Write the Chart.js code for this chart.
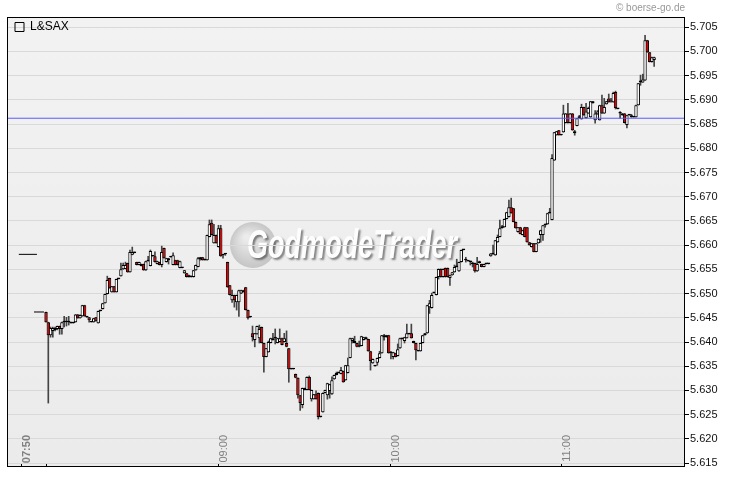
<!DOCTYPE html>
<html><head><meta charset="utf-8">
<script src="https://cdn.jsdelivr.net/npm/chart.js@4.4.1/dist/chart.umd.min.js"></script>
<style>html,body{margin:0;padding:0;background:#fff;}#wrap{width:730px;height:481px;position:relative;}</style>
</head><body><div id="wrap"><canvas id="c"></canvas></div>
<script>
// candles: [open, high, low, close], one per bar, in order
const candles = [
[5.6462,5.6462,5.6441,5.6441],[5.6441,5.6441,5.6274,5.6414],[5.6414,5.6431,5.6410,5.6429],[5.6423,5.6431,5.6410,5.6429],
[5.6425,5.6431,5.6423,5.6429],[5.6427,5.6433,5.6425,5.6433],[5.6433,5.6433,5.6416,5.6427],[5.6427,5.6441,5.6416,5.6441],
[5.6441,5.6453,5.6431,5.6441],[5.6441,5.6451,5.6433,5.6441],[5.6441,5.6453,5.6435,5.6441],[5.6441,5.6441,5.6439,5.6439],
[5.6439,5.6441,5.6439,5.6441],[5.6441,5.6457,5.6441,5.6457],[5.6457,5.6457,5.6449,5.6449],[5.6449,5.6456,5.6449,5.6456],
[5.6453,5.6476,5.6453,5.6476],[5.6476,5.6476,5.6453,5.6453],[5.6453,5.6453,5.6451,5.6451],[5.6451,5.6451,5.6441,5.6445],
[5.6441,5.6441,5.6441,5.6441],[5.6441,5.6449,5.6441,5.6449],[5.6451,5.6451,5.6443,5.6443],[5.6439,5.6464,5.6439,5.6464],
[5.6464,5.6464,5.6464,5.6464],[5.6468,5.6480,5.6468,5.6480],[5.6480,5.6499,5.6480,5.6499],[5.6499,5.6536,5.6499,5.6528],
[5.6532,5.6532,5.6511,5.6511],[5.6503,5.6515,5.6503,5.6515],[5.6515,5.6515,5.6503,5.6503],[5.6503,5.6530,5.6503,5.6530],
[5.6530,5.6530,5.6530,5.6530],[5.6536,5.6563,5.6536,5.6550],[5.6550,5.6563,5.6550,5.6559],[5.6551,5.6565,5.6551,5.6559],
[5.6563,5.6563,5.6544,5.6544],[5.6544,5.6590,5.6544,5.6586],[5.6580,5.6596,5.6580,5.6586],[5.6586,5.6586,5.6584,5.6584],
[5.6565,5.6565,5.6559,5.6559],[5.6559,5.6565,5.6559,5.6565],[5.6557,5.6561,5.6557,5.6561],[5.6561,5.6561,5.6548,5.6548],
[5.6548,5.6567,5.6548,5.6567],[5.6567,5.6577,5.6567,5.6569],[5.6557,5.6590,5.6557,5.6588],[5.6577,5.6577,5.6577,5.6577],
[5.6577,5.6586,5.6565,5.6565],[5.6561,5.6567,5.6561,5.6567],[5.6565,5.6565,5.6559,5.6559],[5.6559,5.6598,5.6555,5.6586],
[5.6594,5.6594,5.6573,5.6573],[5.6565,5.6573,5.6565,5.6573],[5.6569,5.6573,5.6561,5.6573],[5.6575,5.6575,5.6575,5.6575],
[5.6559,5.6584,5.6559,5.6579],[5.6569,5.6569,5.6559,5.6559],[5.6569,5.6569,5.6559,5.6559],[5.6553,5.6567,5.6553,5.6567],
[5.6553,5.6553,5.6553,5.6553],[5.6542,5.6548,5.6542,5.6548],[5.6542,5.6542,5.6534,5.6534],[5.6538,5.6538,5.6534,5.6534],
[5.6534,5.6536,5.6534,5.6536],[5.6534,5.6548,5.6534,5.6548],[5.6548,5.6559,5.6548,5.6559],[5.6555,5.6575,5.6555,5.6573],
[5.6571,5.6575,5.6569,5.6575],[5.6575,5.6575,5.6569,5.6569],[5.6569,5.6571,5.6569,5.6571],[5.6569,5.6621,5.6569,5.6621],
[5.6617,5.6652,5.6617,5.6643],[5.6646,5.6652,5.6621,5.6621],[5.6604,5.6643,5.6604,5.6621],[5.6621,5.6621,5.6604,5.6604],
[5.6596,5.6641,5.6596,5.6635],[5.6635,5.6641,5.6577,5.6577],[5.6579,5.6579,5.6573,5.6579],[5.6581,5.6583,5.6579,5.6581],
[5.6565,5.6565,5.6513,5.6513],[5.6517,5.6517,5.6497,5.6497],[5.6486,5.6507,5.6482,5.6497],[5.6497,5.6497,5.6472,5.6486],
[5.6482,5.6497,5.6466,5.6497],[5.6482,5.6507,5.6453,5.6507],[5.6500,5.6507,5.6500,5.6507],[5.6503,5.6507,5.6503,5.6507],
[5.6513,5.6513,5.6466,5.6466],[5.6466,5.6466,5.6447,5.6449],[5.6451,5.6451,5.6451,5.6451],[5.6418,5.6433,5.6402,5.6410],
[5.6404,5.6418,5.6390,5.6418],[5.6416,5.6433,5.6416,5.6433],[5.6408,5.6435,5.6398,5.6427],[5.6431,5.6431,5.6398,5.6398],
[5.6398,5.6398,5.6338,5.6369],[5.6369,5.6387,5.6369,5.6387],[5.6379,5.6402,5.6379,5.6400],[5.6398,5.6408,5.6398,5.6408],
[5.6404,5.6418,5.6404,5.6408],[5.6408,5.6427,5.6396,5.6408],[5.6398,5.6408,5.6398,5.6408],[5.6400,5.6427,5.6400,5.6408],
[5.6408,5.6408,5.6394,5.6394],[5.6400,5.6418,5.6400,5.6408],[5.6398,5.6423,5.6390,5.6390],[5.6387,5.6387,5.6317,5.6344],
[5.6344,5.6344,5.6344,5.6344],[5.6344,5.6344,5.6344,5.6344],[5.6334,5.6334,5.6326,5.6326],[5.6326,5.6326,5.6284,5.6290],
[5.6290,5.6290,5.6259,5.6274],[5.6270,5.6305,5.6264,5.6305],[5.6301,5.6305,5.6301,5.6305],[5.6301,5.6328,5.6301,5.6328],
[5.6328,5.6330,5.6301,5.6301],[5.6282,5.6301,5.6278,5.6301],[5.6282,5.6292,5.6282,5.6292],[5.6292,5.6299,5.6282,5.6282],
[5.6295,5.6295,5.6241,5.6245],[5.6245,5.6245,5.6245,5.6245],[5.6255,5.6295,5.6255,5.6295],[5.6295,5.6301,5.6295,5.6301],
[5.6290,5.6315,5.6282,5.6315],[5.6299,5.6313,5.6284,5.6313],[5.6292,5.6328,5.6292,5.6321],[5.6323,5.6332,5.6323,5.6332],
[5.6332,5.6338,5.6332,5.6336],[5.6336,5.6336,5.6336,5.6336],[5.6334,5.6348,5.6334,5.6342],[5.6340,5.6340,5.6317,5.6317],
[5.6321,5.6352,5.6321,5.6352],[5.6336,5.6367,5.6336,5.6352],[5.6367,5.6408,5.6367,5.6408],[5.6402,5.6408,5.6398,5.6408],
[5.6398,5.6412,5.6398,5.6402],[5.6398,5.6398,5.6390,5.6390],[5.6390,5.6402,5.6390,5.6392],[5.6392,5.6412,5.6392,5.6412],
[5.6404,5.6410,5.6404,5.6410],[5.6410,5.6410,5.6406,5.6406],[5.6406,5.6406,5.6381,5.6381],[5.6381,5.6381,5.6342,5.6361],
[5.6356,5.6365,5.6356,5.6365],[5.6350,5.6350,5.6350,5.6350],[5.6357,5.6367,5.6352,5.6367],[5.6367,5.6381,5.6367,5.6377],
[5.6377,5.6414,5.6377,5.6414],[5.6410,5.6416,5.6404,5.6414],[5.6414,5.6414,5.6410,5.6410],[5.6414,5.6414,5.6377,5.6377],
[5.6377,5.6381,5.6365,5.6377],[5.6369,5.6379,5.6365,5.6379],[5.6377,5.6377,5.6369,5.6369],[5.6371,5.6396,5.6371,5.6385],
[5.6387,5.6408,5.6387,5.6408],[5.6406,5.6408,5.6406,5.6408],[5.6402,5.6410,5.6398,5.6410],[5.6408,5.6437,5.6408,5.6418],
[5.6418,5.6418,5.6416,5.6416],[5.6418,5.6437,5.6408,5.6408],[5.6402,5.6402,5.6398,5.6398],[5.6398,5.6398,5.6363,5.6383],
[5.6381,5.6381,5.6381,5.6381],[5.6381,5.6398,5.6381,5.6398],[5.6398,5.6414,5.6398,5.6414],[5.6414,5.6418,5.6414,5.6418],
[5.6418,5.6476,5.6418,5.6476],[5.6472,5.6486,5.6459,5.6480],[5.6470,5.6501,5.6470,5.6497],[5.6501,5.6501,5.6501,5.6501],
[5.6497,5.6534,5.6497,5.6534],[5.6534,5.6551,5.6530,5.6551],[5.6551,5.6551,5.6534,5.6534],[5.6534,5.6551,5.6534,5.6551],
[5.6553,5.6553,5.6534,5.6534],[5.6553,5.6553,5.6534,5.6534],[5.6532,5.6538,5.6517,5.6538],[5.6538,5.6544,5.6538,5.6544],
[5.6544,5.6559,5.6544,5.6555],[5.6555,5.6571,5.6555,5.6555],[5.6546,5.6565,5.6546,5.6565],[5.6565,5.6590,5.6565,5.6590],
[5.6590,5.6590,5.6590,5.6590],[5.6569,5.6575,5.6565,5.6569],[5.6567,5.6567,5.6567,5.6567],[5.6565,5.6567,5.6559,5.6565],
[5.6561,5.6565,5.6555,5.6561],[5.6563,5.6563,5.6544,5.6546],[5.6546,5.6575,5.6546,5.6561],[5.6567,5.6567,5.6563,5.6563],
[5.6561,5.6561,5.6555,5.6555],[5.6555,5.6561,5.6555,5.6561],[5.6561,5.6561,5.6561,5.6561],[5.6561,5.6561,5.6561,5.6561],
[5.6577,5.6583,5.6577,5.6583],[5.6581,5.6600,5.6581,5.6583],[5.6579,5.6610,5.6579,5.6610],[5.6606,5.6621,5.6606,5.6617],
[5.6617,5.6652,5.6617,5.6635],[5.6635,5.6641,5.6635,5.6639],[5.6637,5.6654,5.6637,5.6654],[5.6654,5.6668,5.6654,5.6668],
[5.6658,5.6693,5.6658,5.6678],[5.6678,5.6697,5.6666,5.6666],[5.6676,5.6676,5.6648,5.6648],[5.6648,5.6648,5.6635,5.6635],
[5.6627,5.6637,5.6627,5.6637],[5.6637,5.6637,5.6623,5.6623],[5.6621,5.6631,5.6621,5.6631],[5.6637,5.6637,5.6617,5.6617],
[5.6637,5.6637,5.6606,5.6606],[5.6606,5.6606,5.6600,5.6600],[5.6596,5.6604,5.6596,5.6604],[5.6604,5.6604,5.6586,5.6586],
[5.6586,5.6604,5.6586,5.6604],[5.6604,5.6613,5.6604,5.6613],[5.6621,5.6631,5.6606,5.6631],[5.6621,5.6641,5.6610,5.6641],
[5.6641,5.6644,5.6637,5.6644],[5.6643,5.6666,5.6643,5.6666],[5.6666,5.6676,5.6666,5.6668],[5.6652,5.6787,5.6652,5.6780],
[5.6775,5.6833,5.6775,5.6833],[5.6827,5.6835,5.6827,5.6835],[5.6837,5.6837,5.6827,5.6827],[5.6827,5.6827,5.6827,5.6827],
[5.6833,5.6889,5.6833,5.6872],[5.6852,5.6872,5.6852,5.6872],[5.6872,5.6893,5.6852,5.6852],[5.6852,5.6872,5.6852,5.6872],
[5.6872,5.6872,5.6837,5.6837],[5.6831,5.6837,5.6827,5.6835],[5.6846,5.6862,5.6846,5.6862],[5.6862,5.6868,5.6862,5.6866],
[5.6860,5.6891,5.6860,5.6885],[5.6885,5.6885,5.6868,5.6868],[5.6862,5.6893,5.6862,5.6876],[5.6872,5.6885,5.6872,5.6883],
[5.6864,5.6897,5.6864,5.6897],[5.6893,5.6897,5.6893,5.6897],[5.6858,5.6878,5.6852,5.6872],[5.6870,5.6878,5.6870,5.6876],
[5.6858,5.6889,5.6858,5.6889],[5.6889,5.6910,5.6872,5.6872],[5.6872,5.6903,5.6872,5.6885],[5.6891,5.6897,5.6891,5.6897],
[5.6903,5.6912,5.6895,5.6895],[5.6895,5.6903,5.6895,5.6900],[5.6895,5.6916,5.6895,5.6914],[5.6916,5.6918,5.6881,5.6883],
[5.6881,5.6881,5.6881,5.6881],[5.6872,5.6876,5.6862,5.6872],[5.6868,5.6872,5.6868,5.6872],[5.6872,5.6872,5.6852,5.6852],
[5.6848,5.6868,5.6842,5.6868],[5.6868,5.6868,5.6868,5.6868],[5.6864,5.6870,5.6864,5.6868],[5.6864,5.6864,5.6864,5.6864],
[5.6864,5.6889,5.6864,5.6889],[5.6889,5.6934,5.6889,5.6934],[5.6936,5.6951,5.6930,5.6940],[5.6936,5.6953,5.6936,5.6942],
[5.6940,5.7033,5.6940,5.7023],[5.7023,5.7023,5.6998,5.6998],[5.6998,5.6998,5.6978,5.6978],[5.6978,5.6988,5.6978,5.6988],
[5.6982,5.6988,5.6969,5.6988]
];
const xTickPos = [-11, 0.4, 76, 151.6, 227];
const xTickLabels = ['07:50', '', '09:00', '10:00', '11:00'];
const yTicks = [5.615,5.620,5.625,5.630,5.635,5.640,5.645,5.650,5.655,5.660,5.665,5.670,5.675,5.680,5.685,5.690,5.695,5.700,5.705];
const xRange = [-17.2, 281.6];
const yRange = [5.6142, 5.7071];
const refLevel = 5.6862;          // blue horizontal line
const prevClose = {from: -12, to: -4, y: 5.6581};
const preOpen = {from: -5.3, to: -0.9, y: 5.6462};
const seriesName = 'L&SAX';

const wickData = candles.map((c, i) => ({x: i, y: [c[2], c[1]]}));
const bodyData = candles.map((c, i) => ({x: i, y: [Math.min(c[0], c[3]), Math.max(c[0], c[3])]}));
const bodyColors = candles.map(c => c[3] < c[0] ? '#e00000' : '#ffffff');

function drawWatermark(ctx) {
  ctx.save();
  const g = ctx.createRadialGradient(246, 237, 2, 253, 245, 24);
  g.addColorStop(0, '#ececec'); g.addColorStop(1, '#c4c4c4');
  ctx.fillStyle = g;
  ctx.beginPath(); ctx.arc(253, 245, 23, 0, Math.PI * 2); ctx.fill();
  ctx.font = 'italic bold 28px "Liberation Sans"';
  const w = ctx.measureText('GodmodeTrader').width;
  ctx.translate(247, 258);
  ctx.scale(210 / w, 1.42);
  ctx.shadowColor = 'rgba(0,0,0,0.45)'; ctx.shadowOffsetX = 2; ctx.shadowOffsetY = 2; ctx.shadowBlur = 2;
  ctx.fillStyle = '#fdfdfd';
  ctx.fillText('GodmodeTrader', 0, 0);
  ctx.restore();
}

const framePlugin = {
  id: 'frame',
  beforeDraw(chart) {
    const {ctx, chartArea: a} = chart;
    ctx.save();
    const g = ctx.createLinearGradient(0, a.top, 0, a.bottom);
    g.addColorStop(0, '#f2f2f2'); g.addColorStop(1, '#ebebeb');
    ctx.fillStyle = g;
    ctx.fillRect(a.left, a.top, a.right - a.left, a.bottom - a.top);
    ctx.restore();
    drawWatermark(ctx);
  },
  afterDraw(chart) {
    const {ctx, chartArea: a} = chart;
    ctx.save();
    ctx.strokeStyle = '#000'; ctx.lineWidth = 1;
    ctx.strokeRect(Math.round(a.left) + 0.5, Math.round(a.top) + 0.5, Math.round(a.right - a.left) - 1, Math.round(a.bottom - a.top) - 1);
    ctx.restore();
  }
};

new Chart(document.getElementById('c'), {
  type: 'bar',
  data: {
    datasets: [
      {label: seriesName, type: 'bar', data: bodyData, backgroundColor: bodyColors, borderColor: '#000', borderWidth: 1,
       borderSkipped: false, barThickness: 3.4, minBarLength: 1.5, grouped: false, inflateAmount: 0, order: 1},
      {label: 'wick', type: 'bar', data: wickData, backgroundColor: '#444', borderWidth: 0, barThickness: 1, grouped: false, order: 2},
      {label: 'ref', type: 'line', data: [{x: xRange[0], y: refLevel}, {x: xRange[1], y: refLevel}],
       borderColor: '#5a5aff', borderWidth: 1, pointRadius: 0, order: 0},
      {label: 'prev', type: 'line', data: [{x: prevClose.from, y: prevClose.y}, {x: prevClose.to, y: prevClose.y}],
       borderColor: '#000', borderWidth: 1, pointRadius: 0, order: 0},
      {label: 'pre', type: 'line', data: [{x: preOpen.from, y: preOpen.y}, {x: preOpen.to, y: preOpen.y}],
       borderColor: '#000', borderWidth: 1, pointRadius: 0, order: 0}
    ]
  },
  options: {
    responsive: true, maintainAspectRatio: false, animation: false, events: [],
    layout: {padding: {left: 7, right: 0, top: 0, bottom: 0}},
    plugins: {
      tooltip: {enabled: false},
      title: {display: true, text: '© boerse-go.de', align: 'end', fullSize: false, color: '#999',
              font: {family: 'Liberation Sans', size: 10, weight: 'normal'}, padding: {top: 2, bottom: 3}},
      legend: {
        position: 'chartArea', align: 'start', onClick: null,
        title: {display: true, text: '', font: {size: 10, lineHeight: 1}, padding: {top: 3, bottom: 0}},
        labels: {boxWidth: 9, boxHeight: 9, padding: 8, color: '#000', font: {family: 'Liberation Sans', size: 12},
          generateLabels: () => [{text: seriesName, fillStyle: 'rgba(0,0,0,0)', strokeStyle: '#000', fontColor: '#000',
                                  lineWidth: 1, hidden: false, datasetIndex: 0}]}
      }
    },
    scales: {
      x: {
        type: 'linear', min: xRange[0], max: xRange[1], offset: false,
        afterBuildTicks: s => { s.ticks = xTickPos.map(v => ({value: v})); },
        afterFit: s => { s.height = 14; s.paddingLeft = 0; s.paddingRight = 0; },
        grid: {display: true, drawOnChartArea: false, drawTicks: true, tickLength: -4, tickColor: '#000', offset: false},
        border: {display: false},
        ticks: {autoSkip: false, minRotation: 90, maxRotation: 90, mirror: true, padding: 32, labelOffset: 19, color: '#808080',
          font: c => ({family: 'Liberation Sans', size: 11, weight: c.index === 0 ? 'bold' : 'normal'}),
          callback: (v, i) => xTickLabels[i]}
      },
      y: {
        type: 'linear', position: 'right', min: yRange[0], max: yRange[1],
        afterBuildTicks: s => { s.ticks = yTicks.map(v => ({value: v})); },
        afterFit: s => { s.width = 45; },
        grid: {color: '#d9d9d9', tickColor: '#000', tickLength: 4, drawTicks: true},
        border: {display: false},
        ticks: {padding: 1, color: '#111', font: {family: 'Liberation Sans', size: 11}, callback: v => v.toFixed(3)}
      }
    }
  },
  plugins: [framePlugin]
});
</script>
</body></html>
